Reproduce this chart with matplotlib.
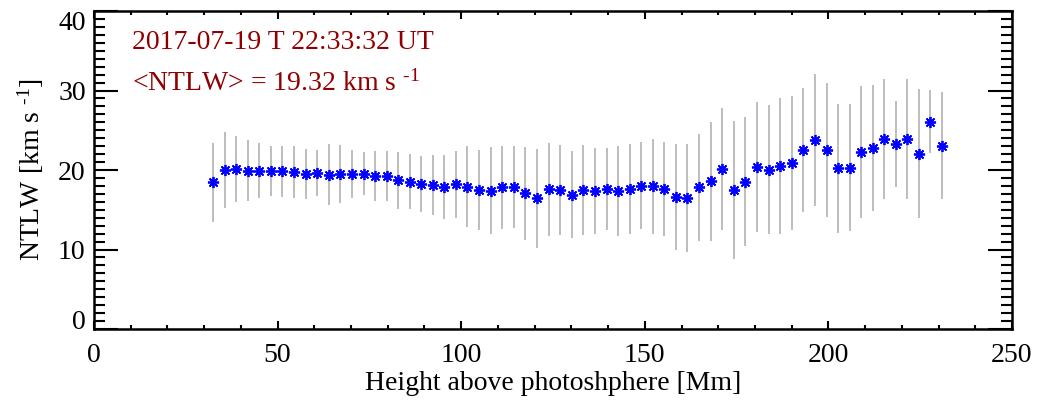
import matplotlib
matplotlib.use('Agg')
import matplotlib.pyplot as plt
from matplotlib.ticker import MultipleLocator

plt.rcParams['font.family'] = ['Liberation Serif', 'DejaVu Serif']
plt.rcParams['mathtext.fontset'] = 'custom'
plt.rcParams['mathtext.rm'] = 'Liberation Serif'
plt.rcParams['mathtext.it'] = 'Liberation Serif'

# height above photosphere [Mm]
height = [32.4, 35.6, 38.7, 41.9, 45.0, 48.2, 51.3, 54.5, 57.6, 60.8,
          63.9, 67.1, 70.2, 73.4, 76.5, 79.7, 82.8, 86.0, 89.1, 92.3,
          95.4, 98.6, 101.7, 104.9, 108.0, 111.2, 114.4, 117.5, 120.7, 123.8,
          127.0, 130.1, 133.3, 136.4, 139.6, 142.7, 145.9, 149.0, 152.2, 155.3,
          158.5, 161.6, 164.8, 167.9, 171.1, 174.2, 177.4, 180.5, 183.7, 186.9,
          190.0, 193.2, 196.3, 199.5, 202.6, 205.8, 208.9, 212.1, 215.2, 218.4,
          221.5, 224.7, 227.8, 231.0]

# non-thermal line width [km/s]
ntlw = [18.45, 20.0, 20.1, 19.9, 19.9, 19.85, 19.85, 19.75, 19.5, 19.65,
        19.4, 19.55, 19.5, 19.55, 19.25, 19.25, 18.7, 18.55, 18.2, 18.1,
        17.85, 18.2, 17.9, 17.5, 17.4, 17.8, 17.85, 17.05, 16.45, 17.55,
        17.45, 16.9, 17.5, 17.35, 17.65, 17.35, 17.65, 18.05, 17.95, 17.6,
        16.6, 16.5, 17.8, 18.6, 20.15, 17.5, 18.55, 20.4, 20.05, 20.5,
        20.85, 22.5, 23.75, 22.55, 20.2, 20.3, 22.3, 22.8, 23.95, 23.3,
        23.85, 22.05, 26.1, 23.05]

ntlw_err = [5.0, 4.8, 4.15, 3.85, 3.45, 3.15, 3.2, 3.25, 3.15, 2.9,
            3.85, 3.65, 3.05, 2.7, 3.1, 3.1, 3.55, 3.4, 3.5, 3.8,
            4.05, 4.2, 5.1, 5.05, 5.5, 5.2, 5.2, 5.85, 6.2, 5.85,
            5.65, 5.5, 5.7, 5.45, 5.15, 5.7, 5.65, 5.45, 5.95, 5.95,
            6.7, 6.8, 6.7, 7.5, 7.65, 8.7, 8.15, 8.2, 8.1, 8.6,
            8.45, 7.8, 8.3, 8.45, 8.1, 8.0, 8.3, 7.9, 7.55, 5.4,
            7.55, 8.15, 4.0, 6.7]

xticks = [0, 50, 100, 150, 200, 250]
yticks = [0, 10, 20, 30, 40]
date_label = '2017-07-19 T 22:33:32 UT'
mean_label = '<NTLW> = 19.32 km s $^{\u2010 1}$'

fig = plt.figure(figsize=(10.39, 4.09), dpi=100)
ax = fig.add_axes([0.0905, 0.1956, 0.8835, 0.7775])

ax.errorbar(height, ntlw, yerr=ntlw_err, fmt='none', ecolor='#b8b8b8',
            elinewidth=1.3, capsize=0, zorder=1)
ax.plot(height, ntlw, linestyle='none', marker=(8, 2, 0), markersize=8,
        markeredgewidth=1.3, color='#0000ff', zorder=2)

ax.set_xlim(0, 250)
ax.set_ylim(0, 40)
ax.set_xticks(xticks)
ax.set_yticks(yticks)
ax.xaxis.set_minor_locator(MultipleLocator(10))
ax.yaxis.set_minor_locator(MultipleLocator(1))
ax.tick_params(which='both', direction='in', top=True, right=True,
               labelsize=20, width=1.5)
ax.tick_params(axis='x', which='major', length=6, pad=10)
ax.tick_params(axis='x', which='minor', length=3)
ax.tick_params(axis='y', which='major', length=17, pad=6)
ax.tick_params(axis='y', which='minor', length=8)
for sp in ax.spines.values():
    sp.set_linewidth(1.8)

# keep the end labels inside the axis range, like the original
ylabs = ax.get_yticklabels()
ylabs[0].set_va('baseline')
ylabs[-1].set_va('top')

ax.set_xlabel('Height above photoshphere [Mm]', fontsize=20, labelpad=2)
ax.set_ylabel('NTLW [km s $^{\u2010 1}$]', fontsize=20, labelpad=9)

ax.text(0.041, 0.88, date_label, transform=ax.transAxes, fontsize=20,
        color='#900000', va='baseline')
ax.text(0.041, 0.75, mean_label, transform=ax.transAxes, fontsize=20,
        color='#900000', va='baseline')

plt.savefig('out.png', dpi=100)
